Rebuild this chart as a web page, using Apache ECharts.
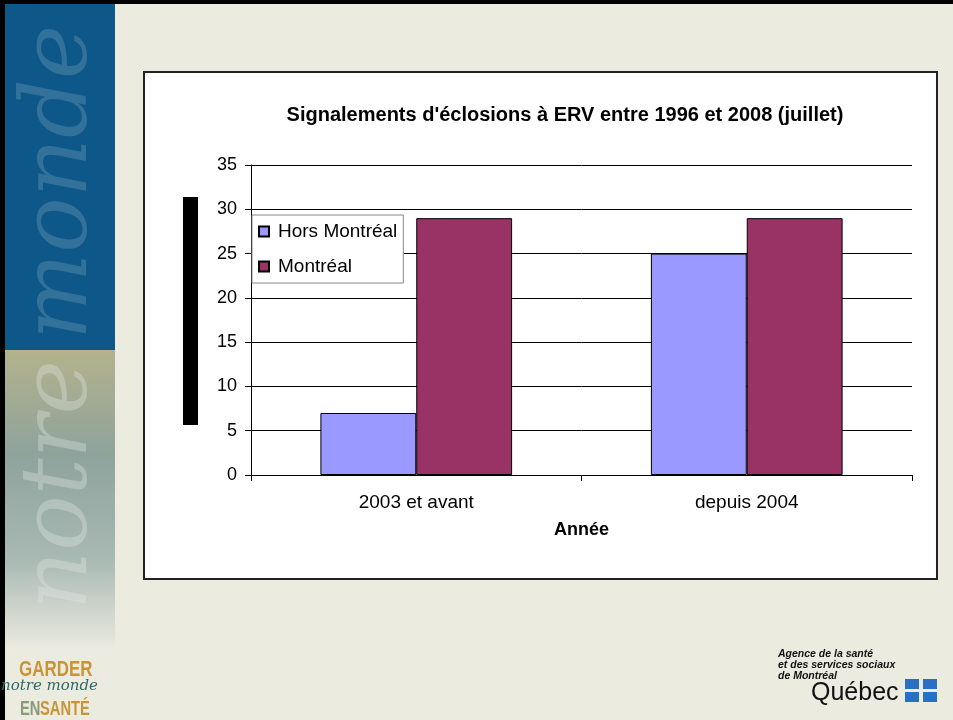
<!DOCTYPE html>
<html>
<head>
<meta charset="utf-8">
<script src="https://cdn.jsdelivr.net/npm/echarts@6/dist/echarts.min.js"></script>
<style>
  html, body { margin: 0; padding: 0; background: #ecebe0; }
  #chart { width: 953px; height: 720px; }
</style>
</head>
<body>
<div id="chart"></div>
<script>
// données
var categories = ['2003 et avant', 'depuis 2004'];
var horsMontreal = [7, 25];
var montreal = [29, 29];
var seriesNames = ['Hors Montréal', 'Montréal'];

var chart = echarts.init(document.getElementById('chart'));
var font = 'Arial, "Liberation Sans", sans-serif';

chart.setOption({
    animation: false,
    backgroundColor: '#ecebe0',
    title: {
        text: "Signalements d'éclosions à ERV entre 1996 et 2008 (juillet)",
        left: 560,
        top: 100,
        textAlign: 'center',
        textStyle: { fontFamily: font, fontSize: 20, fontWeight: 'bold', color: '#000' }
    },
    legend: {
        orient: 'vertical',
        left: 252,
        top: 215,
        data: seriesNames,
        backgroundColor: '#fff',
        borderColor: '#888',
        borderWidth: 1,
        padding: [7, 6, 7, 6],
        itemGap: 16,
        itemWidth: 10,
        itemHeight: 10,
        icon: 'rect',
        textStyle: { fontFamily: font, fontSize: 19, color: '#000', padding: [0, 0, 0, 4] }
    },
    grid: { left: 251, right: 41, top: 165, bottom: 245 },
    xAxis: {
        type: 'category',
        data: categories,
        name: 'Année',
        nameLocation: 'middle',
        nameGap: 46,
        nameTextStyle: { fontFamily: font, fontSize: 18, fontWeight: 'bold', color: '#000' },
        axisLine: { lineStyle: { color: '#000', width: 1 } },
        axisTick: { show: true, alignWithLabel: false, length: 6, lineStyle: { color: '#000' } },
        axisLabel: { fontFamily: font, fontSize: 19, color: '#000', margin: 18 }
    },
    yAxis: {
        type: 'value',
        min: 0,
        max: 35,
        interval: 5,
        axisLine: { show: true, lineStyle: { color: '#000', width: 1 } },
        axisTick: { show: true, length: 6, lineStyle: { color: '#000' } },
        axisLabel: { fontFamily: font, fontSize: 18, color: '#000', margin: 14 },
        splitLine: { lineStyle: { color: '#000', width: 1 } }
    },
    series: [
        {
            name: seriesNames[0],
            type: 'bar',
            data: horsMontreal,
            barGap: '0%',
            barCategoryGap: '42%',
            itemStyle: { color: '#9999ff', borderColor: '#000', borderWidth: 1 }
        },
        {
            name: seriesNames[1],
            type: 'bar',
            data: montreal,
            itemStyle: { color: '#993366', borderColor: '#000', borderWidth: 1 }
        }
    ],
    graphic: [
        // cadre noir de la diapo
        { type: 'rect', z: -20, shape: { x: 0, y: 0, width: 953, height: 4 }, style: { fill: '#000' } },
        { type: 'rect', z: -20, shape: { x: 0, y: 0, width: 5, height: 720 }, style: { fill: '#000' } },
        // bande de gauche
        { type: 'rect', z: -19, shape: { x: 5, y: 4, width: 110, height: 346 }, style: { fill: '#0d5888' } },
        {
            type: 'rect', z: -19, shape: { x: 5, y: 350, width: 110, height: 300 },
            style: {
                fill: new echarts.graphic.LinearGradient(0, 0, 0, 1, [
                    { offset: 0, color: '#b4b28c' },
                    { offset: 0.35, color: '#8ea39c' },
                    { offset: 0.7, color: '#a9b9b4' },
                    { offset: 1, color: '#ecebe0' }
                ])
            }
        },
        {
            type: 'text', z: -18, x: 108, y: 340, rotation: Math.PI / 2,
            style: { text: 'monde', fill: 'rgba(120,160,185,0.35)', font: 'italic 92px "DejaVu Serif", serif', verticalAlign: 'bottom' }
        },
        {
            type: 'text', z: -18, x: 108, y: 610, rotation: Math.PI / 2,
            style: { text: 'notre', fill: 'rgba(225,232,228,0.35)', font: 'italic 92px "DejaVu Serif", serif', verticalAlign: 'bottom' }
        },
        // logo gauche
        { type: 'text', z: -18, x: 19, y: 659, scaleX: 0.77, style: { text: 'GARDER', fill: '#c89536', font: 'bold 22px Arial, sans-serif' } },
        { type: 'text', z: -18, x: 1, y: 679, style: { text: 'notre monde', fill: '#2f6a6a', font: 'italic 15px "DejaVu Serif", serif' } },
        { type: 'text', z: -18, x: 20, y: 699, scaleX: 0.7, style: { text: 'EN', fill: '#8a9a78', font: 'bold 21px Arial, sans-serif' } },
        { type: 'text', z: -18, x: 40, y: 699, scaleX: 0.7, style: { text: 'SANTÉ', fill: '#c89536', font: 'bold 21px Arial, sans-serif' } },
        // boîte du graphique
        { type: 'rect', z: -10, shape: { x: 144, y: 72, width: 793, height: 507 }, style: { fill: '#fff', stroke: '#222', lineWidth: 2 } },
        // barre noire décorative
        { type: 'rect', z: -5, shape: { x: 183, y: 197, width: 15, height: 228 }, style: { fill: '#000' } },
        // logo droite
        { type: 'text', z: -5, x: 778, y: 649, style: { text: 'Agence de la santé\net des services sociaux\nde Montréal', fill: '#111', font: 'italic bold 10.5px Arial, sans-serif', lineHeight: 11 } },
        { type: 'text', z: -5, x: 811, y: 681, style: { text: 'Québec', fill: '#111', font: '25px "Liberation Sans", Arial, sans-serif' } },
        { type: 'rect', z: -5, shape: { x: 905, y: 679, width: 14, height: 10 }, style: { fill: '#2b6fc4' } },
        { type: 'rect', z: -5, shape: { x: 923, y: 679, width: 14, height: 10 }, style: { fill: '#2b6fc4' } },
        { type: 'rect', z: -5, shape: { x: 905, y: 692, width: 14, height: 10 }, style: { fill: '#2b6fc4' } },
        { type: 'rect', z: -5, shape: { x: 923, y: 692, width: 14, height: 10 }, style: { fill: '#2b6fc4' } }
    ]
});
</script>
</body>
</html>
